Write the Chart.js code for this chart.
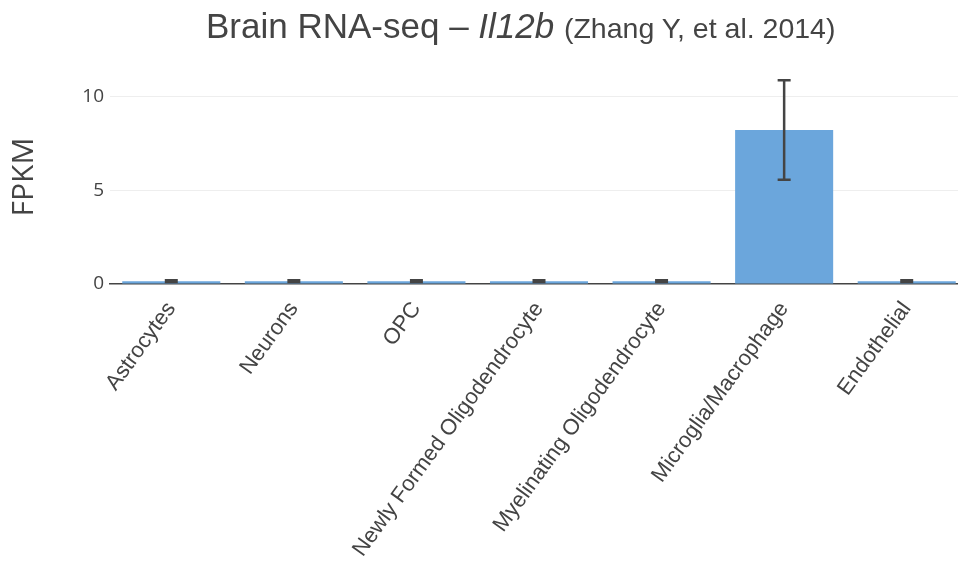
<!DOCTYPE html>
<html>
<head>
    <title>Brain RNA-seq – Il12b</title>
    <script src="https://cdn.jsdelivr.net/npm/chart.js@4/dist/chart.umd.min.js"></script>
    <style>
        * {
            margin: 0;
            padding: 0;
            box-sizing: border-box;
        }

        body {
            background: #fff;
            width: 958px;
            height: 565px;
            overflow: hidden;
        }

        .frame {
            position: relative;
            width: 958px;
            height: 565px;
            overflow: hidden;
        }

        .chart-box {
            position: absolute;
            left: 0;
            top: 0;
            width: 970px;
            height: 565px;
        }

        .title {
            position: absolute;
            left: 206px;
            top: 9px;
            white-space: nowrap;
            font-family: "Liberation Sans", Arial, sans-serif;
            font-size: 35px;
            line-height: 34px;
            color: #444;
        }

        .title .sub {
            font-size: 28.5px;
        }
    </style>
</head>
<body>
    <div class="frame">
        <div class="chart-box">
            <canvas id="fpkmChart"></canvas>
        </div>
        <div class="title">Brain RNA-seq – <i>Il12b</i> <span class="sub">(Zhang Y, et al. 2014)</span></div>
    </div>

    <script>
        // Cell types and mean FPKM with error
        const cellTypes = [
            'Astrocytes',
            'Neurons',
            'OPC',
            'Newly Formed Oligodendrocyte',
            'Myelinating Oligodendrocyte',
            'Microglia/Macrophage',
            'Endothelial'
        ];
        const fpkm = [0.15, 0.15, 0.15, 0.15, 0.15, 8.2, 0.15];
        const fpkmErr = [0.05, 0.05, 0.05, 0.05, 0.05, 2.65, 0.05];
        const yTicks = [0, 5, 10];

        const textColor = '#444';

        // Vertical error bars with caps, drawn after the bars
        const errorBars = {
            id: 'errorBars',
            afterDatasetsDraw(chart) {
                const ctx = chart.ctx;
                const y = chart.scales.y;
                const meta = chart.getDatasetMeta(0);
                ctx.save();
                ctx.strokeStyle = textColor;
                ctx.lineWidth = 2.5;
                meta.data.forEach((bar, i) => {
                    const top = y.getPixelForValue(fpkm[i] + fpkmErr[i]);
                    const bottom = y.getPixelForValue(fpkm[i] - fpkmErr[i]);
                    const cap = 6.5;
                    ctx.beginPath();
                    ctx.moveTo(bar.x, top);
                    ctx.lineTo(bar.x, bottom);
                    ctx.moveTo(bar.x - cap, top);
                    ctx.lineTo(bar.x + cap, top);
                    ctx.moveTo(bar.x - cap, bottom);
                    ctx.lineTo(bar.x + cap, bottom);
                    ctx.stroke();
                });
                ctx.restore();
            }
        };

        new Chart(document.getElementById('fpkmChart'), {
            type: 'bar',
            data: {
                labels: cellTypes,
                datasets: [{
                    data: fpkm,
                    backgroundColor: '#6ba6dc',
                    categoryPercentage: 1,
                    barPercentage: 0.8
                }]
            },
            options: {
                responsive: true,
                maintainAspectRatio: false,
                animation: false,
                layout: {
                    padding: { top: 70, right: 2, left: 0, bottom: 0 }
                },
                plugins: {
                    legend: { display: false },
                    tooltip: { enabled: false }
                },
                scales: {
                    x: {
                        afterFit(scale) { scale.height = 281; },
                        grid: { display: false, drawTicks: false },
                        border: { display: true, color: textColor, width: 1.5 },
                        ticks: {
                            color: textColor,
                            font: { family: '"Liberation Sans", Arial, sans-serif', size: 22 },
                            minRotation: 54,
                            maxRotation: 54,
                            padding: 13,
                            autoSkip: false
                        }
                    },
                    y: {
                        min: 0,
                        max: 11.4,
                        afterFit(scale) { scale.width = 110; },
                        afterBuildTicks(scale) {
                            scale.ticks = yTicks.map(v => ({ value: v }));
                        },
                        grid: {
                            drawTicks: false,
                            color: c => (c.tick && c.tick.value === 0) ? 'rgba(0,0,0,0)' : '#eeeeee'
                        },
                        border: { display: false },
                        ticks: {
                            color: textColor,
                            font: { family: '"Open Sans", sans-serif', size: 19 },
                            padding: 6
                        },
                        title: {
                            display: true,
                            text: 'FPKM',
                            color: textColor,
                            font: { family: '"Open Sans", sans-serif', size: 30 },
                            padding: { top: 6, bottom: 10 }
                        }
                    }
                }
            },
            plugins: [errorBars]
        });
    </script>
</body>
</html>
